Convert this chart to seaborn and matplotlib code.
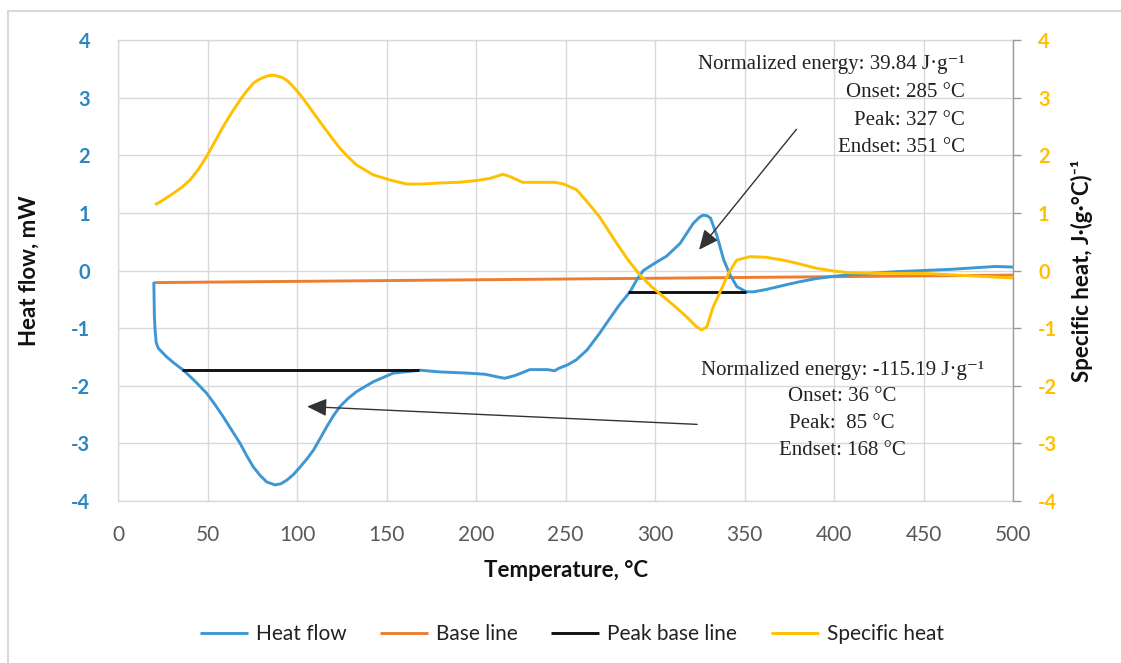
import matplotlib
matplotlib.use("Agg")
import matplotlib.pyplot as plt
import seaborn as sns
import pandas as pd
from matplotlib.patches import Rectangle

# ---------------- data ----------------
hf_T = [20, 20.3, 20.7, 21.3, 22.5, 27.2, 31, 36.5, 43, 49.5,
        54, 58.8, 63.5, 68.2, 72, 75.6, 79.5, 83.1, 87.7, 91,
        94.2, 98, 101.7, 105.5, 109.1, 112.8, 116.6, 120.3, 124, 128.5,
        133.3, 142.6, 153.8, 168.7, 180, 195, 205, 211, 216, 222,
        230, 240, 244, 246, 251, 256, 262, 269, 275, 280,
        286, 290, 293.5, 300, 306.5, 314, 321.4, 325, 327, 329,
        331, 334.7, 338.4, 342, 345.7, 351, 355, 362, 371.5, 380,
        390, 400, 410, 420, 435, 450, 465, 480, 490, 500]
hf_val = [-0.20, -0.80, -1.03, -1.25, -1.35, -1.50, -1.60, -1.73, -1.92, -2.13,
          -2.32, -2.54, -2.77, -3.00, -3.22, -3.41, -3.56, -3.67, -3.72, -3.70,
          -3.64, -3.54, -3.41, -3.27, -3.12, -2.92, -2.71, -2.52, -2.36, -2.22,
          -2.10, -1.93, -1.78, -1.73, -1.76, -1.78, -1.80, -1.84, -1.87, -1.82,
          -1.72, -1.72, -1.74, -1.70, -1.64, -1.55, -1.38, -1.09, -0.82, -0.60,
          -0.37, -0.15, 0.00, 0.13, 0.25, 0.47, 0.82, 0.93, 0.96, 0.95,
          0.91, 0.59, 0.18, -0.08, -0.28, -0.37, -0.37, -0.33, -0.26, -0.20,
          -0.14, -0.10, -0.07, -0.05, -0.02, 0.00, 0.02, 0.05, 0.07, 0.06]

base_T = [20, 500]
base_val = [-0.21, -0.08]

peak1_T = [36, 168]
peak1_val = [-1.73, -1.73]
peak2_T = [285, 351]
peak2_val = [-0.37, -0.37]

cp_T = [20.7, 25, 30.9, 35.5, 40.2, 45, 49.5, 54, 58.8, 63.5,
        68.2, 72, 75.6, 78.5, 81.2, 84, 86.8, 89.5, 92.4, 95,
        97.9, 101.5, 105.4, 110, 114.7, 119.5, 124, 128.5, 133.3, 142.6,
        152, 161.3, 170, 180, 190, 200, 208, 215, 219, 226,
        235, 244, 249, 256.2, 262.7, 269, 278.6, 285, 291.6, 298,
        304.5, 311, 317.5, 323.3, 326, 328.9, 332.5, 337, 341, 345.6,
        353, 362, 371.5, 380, 390, 400, 409, 430, 450, 475, 500]
cp_val = [1.14, 1.22, 1.34, 1.44, 1.57, 1.76, 1.98, 2.23, 2.50, 2.74,
          2.96, 3.12, 3.25, 3.31, 3.35, 3.38, 3.39, 3.37, 3.34, 3.28,
          3.19, 3.06, 2.90, 2.70, 2.50, 2.30, 2.12, 1.97, 1.83, 1.66,
          1.57, 1.50, 1.50, 1.52, 1.53, 1.56, 1.60, 1.67, 1.63, 1.53,
          1.53, 1.53, 1.50, 1.40, 1.17, 0.93, 0.47, 0.18, -0.08, -0.28,
          -0.45, -0.62, -0.80, -0.98, -1.03, -0.98, -0.63, -0.33, -0.05, 0.18,
          0.24, 0.23, 0.18, 0.12, 0.04, -0.01, -0.04, -0.05, -0.05, -0.09, -0.13]

x_ticks = [0, 50, 100, 150, 200, 250, 300, 350, 400, 450, 500]
y_ticks = [-4, -3, -2, -1, 0, 1, 2, 3, 4]

series_names = ["Heat flow", "Base line", "Peak base line", "Specific heat"]

ann1_lines = ["Normalized energy: 39.84 J·g⁻¹", "Onset: 285 °C", "Peak: 327 °C", "Endset: 351 °C"]
ann2_lines = ["Normalized energy: -115.19 J·g⁻¹", "Onset: 36 °C", "Peak:  85 °C", "Endset: 168 °C"]

# ---------------- style ----------------
sns.set_style("white")
plt.rcParams['font.family'] = ['Lato', 'DejaVu Sans']
plt.rcParams['axes.unicode_minus'] = False

C_BLUE = "#3D97D3"
C_ORANGE = "#ED7D31"
C_BLACK = "#111111"
C_YELLOW = "#FFC000"
C_GRID = "#D9D9D9"
SANS = ['Lato', 'DejaVu Sans']
SERIF = ['Liberation Serif', 'DejaVu Serif']

fig = plt.figure(figsize=(11.21, 6.63), dpi=100)
fig.patch.set_facecolor("white")
ax = fig.add_axes([0.1053, 0.2443, 0.7984, 0.6954])

df_hf = pd.DataFrame({"T": hf_T, "v": hf_val})
df_base = pd.DataFrame({"T": base_T, "v": base_val})
df_p1 = pd.DataFrame({"T": peak1_T, "v": peak1_val})
df_p2 = pd.DataFrame({"T": peak2_T, "v": peak2_val})
df_cp = pd.DataFrame({"T": cp_T, "v": cp_val})

LW = 2.1
line_kw = dict(estimator=None, sort=False, solid_joinstyle="round", solid_capstyle="butt")
sns.lineplot(data=df_base, x="T", y="v", ax=ax, color=C_ORANGE, lw=LW, label=series_names[1], **line_kw)
sns.lineplot(data=df_hf, x="T", y="v", ax=ax, color=C_BLUE, lw=LW, label=series_names[0], **line_kw)
sns.lineplot(data=df_p1, x="T", y="v", ax=ax, color=C_BLACK, lw=LW, label=series_names[2], **line_kw)
sns.lineplot(data=df_p2, x="T", y="v", ax=ax, color=C_BLACK, lw=LW, **line_kw)

ax.set_xlim(0, 500)
ax.set_ylim(-4, 4)
ax.set_xticks(x_ticks)
ax.set_yticks(y_ticks)
ax.grid(True, color=C_GRID, lw=1.0)
ax.set_axisbelow(True)
for s in ["top", "bottom", "left"]:
    ax.spines[s].set_color(C_GRID)
    ax.spines[s].set_linewidth(1.0)
ax.spines["right"].set_visible(False)
ax.tick_params(axis="y", length=0, pad=20, labelsize=14.5, labelcolor="#2B87C2")
ax.tick_params(axis="x", length=0, pad=17, labelsize=15, labelcolor="#595959")
for t in ax.get_yticklabels():
    t.set_fontweight("bold")
ax.set_xlabel("Temperature, °C", fontsize=16, fontweight="bold", color="#111111")
ax.set_ylabel("Heat flow, mW", fontsize=16, fontweight="bold", color="#111111")
ax.xaxis.set_label_coords(0.5, -0.127)
ax.yaxis.set_label_coords(-0.087, 0.5)

ax2 = ax.twinx()
sns.lineplot(data=df_cp, x="T", y="v", ax=ax2, color=C_YELLOW, lw=LW, label=series_names[3], **line_kw)
ax2.set_ylim(-4, 4)
ax2.set_yticks(y_ticks)
ax2.set_xlim(0, 500)
for s in ["top", "bottom", "left"]:
    ax2.spines[s].set_visible(False)
ax2.spines["right"].set_color("#9A9A9A")
ax2.spines["right"].set_linewidth(1.0)
ax2.tick_params(axis="y", direction="out", length=6, width=1, color="#9A9A9A", pad=12,
                labelsize=14.5, labelcolor=C_YELLOW)
for t in ax2.get_yticklabels():
    t.set_fontweight("bold")
ax2.set_ylabel("Specific heat, J·(g·°C)⁻¹", fontsize=16, fontweight="bold", color="#111111",
               family=SANS)
ax2.yaxis.set_label_coords(1.065, 0.5)

# annotations
y_up = [3.57, 3.09, 2.61, 2.13]
for line, yy in zip(ann1_lines, y_up):
    ax2.text(473, yy, line, ha="right", va="center", fontsize=15, family=SERIF, color="#222222")
y_lo = [-1.73, -2.18, -2.65, -3.12]
for line, yy in zip(ann2_lines, y_lo):
    ax2.text(404.5, yy, line, ha="center", va="center", fontsize=15, family=SERIF, color="#222222")

arrow_kw = dict(arrowstyle="-|>,head_length=0.6,head_width=0.27", color="#333333", lw=1.0,
                mutation_scale=20, shrinkA=0, shrinkB=0)
ax2.annotate("", xy=(324.6, 0.36), xytext=(379, 2.45), arrowprops=arrow_kw)
ax2.annotate("", xy=(105.6, -2.36), xytext=(323.5, -2.67), arrowprops=arrow_kw)

# legend
h1, l1 = ax.get_legend_handles_labels()
h2, l2 = ax2.get_legend_handles_labels()
handles_map = dict(zip(l1 + l2, h1 + h2))
if ax.get_legend() is not None:
    ax.get_legend().remove()
if ax2.get_legend() is not None:
    ax2.get_legend().remove()
fig.legend([handles_map[n] for n in series_names], series_names, loc="center",
           bbox_to_anchor=(0.51, 1 - 634 / 663), ncol=4, frameon=False, fontsize=15,
           handlelength=2.3, handletextpad=0.4, columnspacing=1.6, labelcolor="#222222")

# outer chart border
fig.add_artist(Rectangle((8 / 1121, -0.1), 1.2, 1.1 - 11 / 663, transform=fig.transFigure,
                         fill=False, edgecolor=C_GRID, lw=1.5))

fig.savefig("out.png", dpi=100, facecolor="white")
